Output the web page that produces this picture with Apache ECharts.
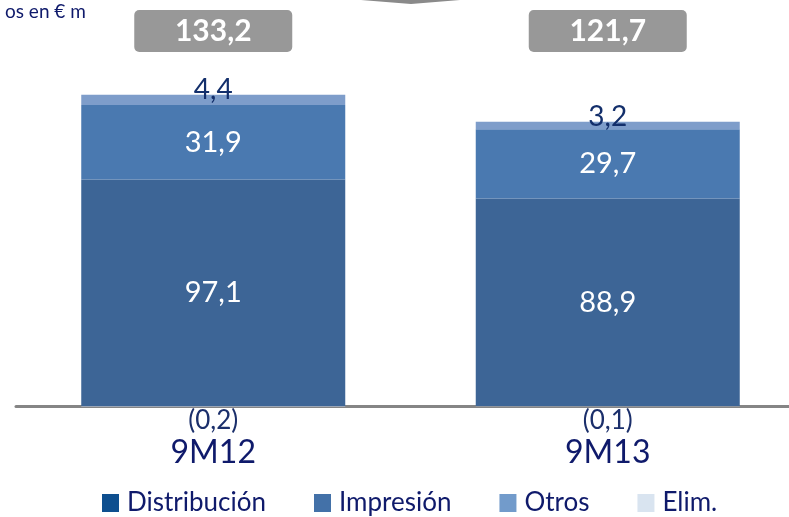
<!DOCTYPE html>
<html>
<head>
<meta charset="utf-8">
<script src="https://cdn.jsdelivr.net/npm/echarts@6/dist/echarts.min.js"></script>
<style>
    html, body { margin: 0; padding: 0; background: #fff; }
    #main { width: 789px; height: 517px; }
</style>
</head>
<body>
<div id="main"></div>
<script>
    // datos
    var categories = ['9M12', '9M13'];
    var totals = [133.2, 121.7];
    var distribucion = [97.1, 88.9];
    var impresion = [31.9, 29.7];
    var otros = [4.4, 3.2];
    var elim = [-0.2, -0.1];

    var FONT = 'Lato, "Noto Sans", sans-serif';
    var NAVY = '#0f1a6b';

    function coma(v) {
        return v.toFixed(1).replace('.', ',');
    }

    var myChart = echarts.init(document.getElementById('main'));
    var option = {
        animation: false,
        title: {
            text: 'os en € m',
            left: 0,
            top: -3,
            textStyle: {color: NAVY, fontSize: 19, fontWeight: 'normal', fontFamily: FONT}
        },
        graphic: [
            {
                type: 'polygon',
                shape: {points: [[361, 0], [460, 0], [411, 4]]},
                style: {fill: '#8a8a8a'}
            }
        ],
        legend: {
            left: 102,
            top: 490,
            padding: 0,
            itemWidth: 17,
            itemHeight: 18,
            itemGap: 48,
            icon: 'rect',
            textStyle: {color: NAVY, fontSize: 26, fontFamily: FONT, padding: [0, 0, 0, 3]},
            data: [
                {name: 'Distribución', itemStyle: {color: '#0e4f8f'}},
                {name: 'Impresión', itemStyle: {color: '#4371a8'}},
                {name: 'Otros', itemStyle: {color: '#729bcb'}},
                {name: 'Elim.', itemStyle: {color: '#d9e4f0'}}
            ]
        },
        grid: {left: 16, top: 56, width: 789, height: 373.3, outerBoundsMode: 'none'},
        xAxis: [
            {
                type: 'category',
                data: categories,
                axisLine: {onZero: true, lineStyle: {color: '#858585', width: 3}},
                axisTick: {show: false},
                axisLabel: {color: NAVY, fontSize: 32, fontFamily: FONT, margin: 7}
            },
            {
                type: 'category',
                position: 'top',
                data: categories,
                axisLine: {show: false, onZero: false},
                axisTick: {show: false},
                axisLabel: {
                    formatter: function (v, i) {
                        return coma(totals[i]);
                    },
                    margin: 4,
                    color: '#fff',
                    fontWeight: 'bold',
                    fontSize: 30,
                    fontFamily: FONT,
                    backgroundColor: '#989898',
                    borderRadius: 5,
                    width: 158,
                    height: 42,
                    lineHeight: 42,
                    align: 'center'
                }
            }
        ],
        yAxis: {
            type: 'value',
            show: false,
            min: -10,
            max: 150,
            splitLine: {show: false}
        },
        series: [
            {
                name: 'Distribución',
                type: 'bar',
                stack: 'total',
                barWidth: 264,
                data: distribucion,
                itemStyle: {color: '#3d6596'},
                label: {
                    show: true,
                    position: 'inside',
                    color: '#fff',
                    fontSize: 29,
                    fontFamily: FONT,
                    formatter: function (p) {
                        return coma(p.value);
                    }
                }
            },
            {
                name: 'Impresión',
                type: 'bar',
                stack: 'total',
                data: impresion,
                itemStyle: {color: '#4a79b0'},
                label: {
                    show: true,
                    position: 'inside',
                    color: '#fff',
                    fontSize: 29,
                    fontFamily: FONT,
                    formatter: function (p) {
                        return coma(p.value);
                    }
                }
            },
            {
                name: 'Otros',
                type: 'bar',
                stack: 'total',
                data: otros,
                itemStyle: {color: '#7e9dca'},
                label: {
                    show: true,
                    position: 'top',
                    distance: -9,
                    color: '#132f6b',
                    fontSize: 28,
                    fontFamily: FONT,
                    formatter: function (p) {
                        return coma(p.value);
                    }
                }
            },
            {
                name: 'Elim.',
                type: 'bar',
                stack: 'total',
                data: elim,
                itemStyle: {color: '#b4c7e7'},
                label: {
                    show: true,
                    position: 'bottom',
                    distance: 1,
                    color: '#1b2f6b',
                    fontSize: 26,
                    fontFamily: FONT,
                    formatter: function (p) {
                        return '(' + coma(Math.abs(p.value)) + ')';
                    }
                }
            }
        ]
    };
    myChart.setOption(option);
</script>
</body>
</html>
